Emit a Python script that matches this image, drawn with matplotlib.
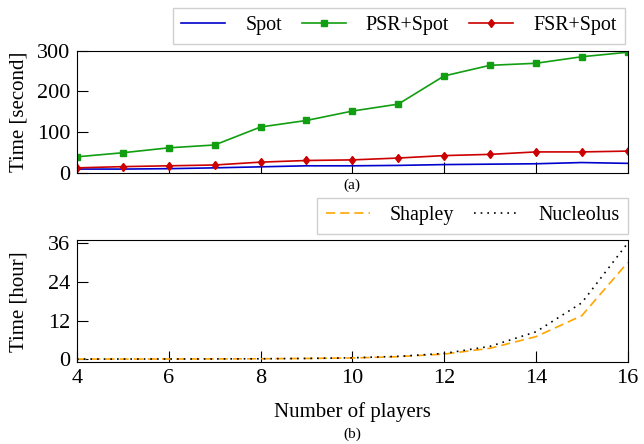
import numpy as np
import matplotlib.pyplot as plt

plt.rcParams['font.family'] = ['Liberation Serif', 'DejaVu Serif']
plt.rcParams['mathtext.fontset'] = 'stix'

players = np.arange(4, 17)

# (a) running time in seconds
spot = [10, 10, 11, 13, 15.5, 18, 18, 19, 21, 22, 23, 26, 24]
psr_spot = [40, 50, 62, 69, 113, 129, 152, 169, 238, 264, 269, 285, 296]
fsr_spot = [13, 16, 18, 20, 27, 31, 32.5, 37, 43, 46, 52, 52, 54]

# (b) running time in hours
shapley = [0.05, 0.06, 0.08, 0.1, 0.15, 0.25, 0.4, 0.8, 1.6, 3.4, 7.0, 13.5, 30]
nucleolus = [0.05, 0.06, 0.08, 0.1, 0.15, 0.25, 0.45, 0.9, 1.8, 4.0, 8.5, 17.5, 36]

fig = plt.figure(figsize=(6.44, 4.44), dpi=100)
ax1 = fig.add_axes([0.1196, 0.610, 0.855, 0.276])
ax2 = fig.add_axes([0.1196, 0.1836, 0.855, 0.276])

leg_kw = dict(fontsize=14.4, fancybox=False, edgecolor='#d0d0d0', handlelength=2.2,
              handletextpad=1.0, columnspacing=1.0, borderaxespad=0.0,
              borderpad=0.42, framealpha=1.0)

ax1.plot(players, spot, color='#0000cc', lw=1.2, label='Spot')
ax1.plot(players, psr_spot, color='#119e11', lw=1.2, marker='s', ms=5, label='PSR+Spot')
ax1.plot(players, fsr_spot, color='#cc0000', lw=1.2, marker='d', ms=4.5, label='FSR+Spot')
ax1.set_xlim(4, 16)
ax1.set_ylim(0, 300)
ax1.set_yticks([0, 100, 200, 300])
ax1.set_xticks(range(4, 17, 2))
ax1.set_xticklabels([])
ax1.set_ylabel('Time [second]', fontsize=15)
ax1.yaxis.set_label_coords(-0.088, 0.5)
ax1.legend(ncol=3, loc='upper right', bbox_to_anchor=(0.9705, 0.982),
           bbox_transform=fig.transFigure, **leg_kw)
ax1.text(0.5, -0.095, '(a)', transform=ax1.transAxes, ha='center', va='center', fontsize=11)

ax2.plot(players, shapley, color='#ffa500', lw=1.2, ls=(0, (5.5, 3)), label='Shapley')
ax2.plot(players, nucleolus, color='black', lw=1.2, ls=(0, (1, 3)), label='Nucleolus')
ax2.set_xlim(4, 16)
ax2.set_ylim(-1, 37)
ax2.set_yticks([0, 12, 24, 36])
ax2.set_xticks(range(4, 17, 2))
ax2.set_xlabel('Number of players', fontsize=15)
ax2.xaxis.set_label_coords(0.5, -0.32)
ax2.set_ylabel('Time [hour]', fontsize=15)
ax2.yaxis.set_label_coords(-0.088, 0.5)
ax2.legend(ncol=2, loc='upper right', bbox_to_anchor=(0.975, 0.554),
           bbox_transform=fig.transFigure, **leg_kw)
ax2.text(0.5, -0.585, '(b)', transform=ax2.transAxes, ha='center', va='center', fontsize=11)

for ax in (ax1, ax2):
    ax.tick_params(direction='in', labelsize=16, length=8, pad=5)

fig.savefig('out.png', dpi=100)
